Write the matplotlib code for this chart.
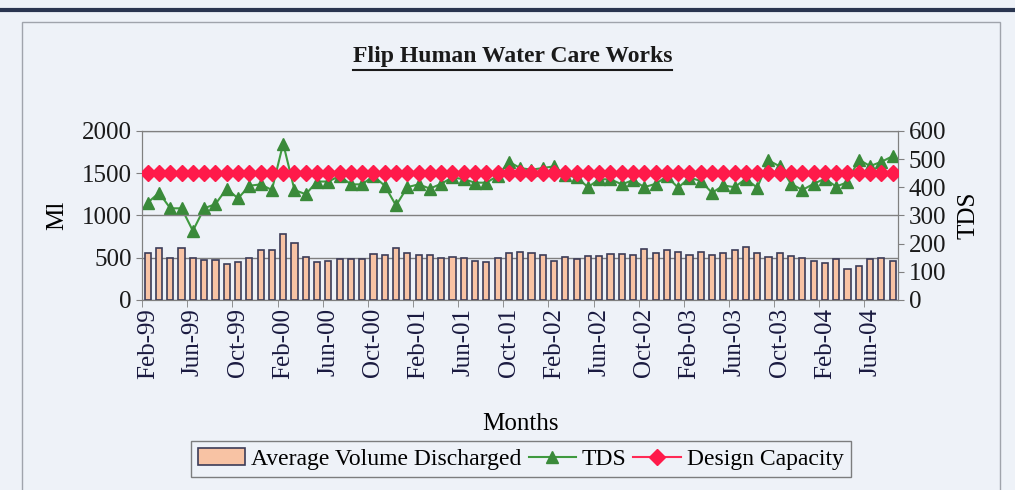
import matplotlib
matplotlib.use("Agg")
import matplotlib.pyplot as plt
from matplotlib.lines import Line2D
import numpy as np

plt.rcParams["font.family"] = ["Liberation Serif", "DejaVu Serif"]

# monthly data, Feb-99 .. Aug-04
volume = [
    553, 613, 494, 613, 494, 466, 466, 427, 447, 494, 593, 593, 783, 672, 506, 447,
    458, 486, 486, 486, 545, 535, 615, 555, 535, 535, 495, 505, 495, 465, 450, 490,
    550, 565, 550, 530, 465, 505, 485, 525, 525, 545, 545, 530, 605, 555, 590, 570,
    530, 570, 530, 550, 590, 630, 550, 505, 550, 525, 500, 460, 440, 480, 365, 395,
    480, 500, 460,
]
tds = [
    345, 380, 325, 325, 245, 325, 340, 395, 360, 405, 410, 390, 555, 390, 375, 420,
    420, 440, 410, 410, 440, 405, 335, 400, 410, 395, 412, 435, 428, 416, 416, 440,
    490, 468, 462, 468, 474, 442, 436, 400, 428, 428, 410, 425, 400, 412, 438, 398,
    434, 422, 380, 406, 400, 430, 398, 495, 474, 412, 390, 412, 430, 402, 418, 498,
    475, 490, 510,
]
design_capacity = [1500] * len(volume)

months = ["Feb", "Mar", "Apr", "May", "Jun", "Jul", "Aug", "Sep", "Oct", "Nov", "Dec", "Jan"]
labels = []
year = 99
for i in range(len(volume)):
    m = months[i % 12]
    if m == "Jan":
        year = (year + 1) % 100
    labels.append(f"{m}-{year:02d}")

bg = "#eef2f8"
fig = plt.figure(figsize=(10.15, 4.9), dpi=100, facecolor=bg)

# scanned page decorations
fig.add_artist(Line2D([0, 1], [0.979, 0.979], color="#2a3550", lw=3, transform=fig.transFigure))
fig.add_artist(plt.Rectangle((0.022, -0.1), 0.963, 1.055, transform=fig.transFigure,
                             fill=False, ec="#a0a4ac", lw=1))

ax = fig.add_axes([0.140, 0.388, 0.745, 0.345])
ax.set_facecolor(bg)
x = np.arange(len(volume))

ax.bar(x, volume, width=0.55, color="#f8c3a4", edgecolor="#3c3c58", lw=1.2,
       label="Average Volume Discharged", zorder=3)
ax.set_ylim(0, 2000)
ax.set_yticks(range(0, 2001, 500))
ax.set_xlim(-0.5, len(volume) - 0.5)
ax.grid(axis="y", color="#808080", lw=1, zorder=0)

ax2 = ax.twinx()
ax2.plot(x, tds, color="#3f9a3f", lw=1.5, marker="^", ms=9, mfc="#3a8a3a",
         mec="#3a8a3a", label="TDS", zorder=4)
ax2.set_ylim(0, 600)
ax2.set_yticks(range(0, 601, 100))

ax.plot(x, design_capacity, color="#ff2a55", lw=1.5, marker="D", ms=8,
        mfc="#ff1a4a", mec="#ff1a4a", label="Design Capacity", zorder=5)
ax.set_zorder(ax2.get_zorder() + 1)
ax.patch.set_visible(False)
ax2.patch.set_facecolor(bg)

ax.set_xticks(x[::4])
ax.set_xticklabels(labels[::4], rotation=90, fontsize=18, color="#1a1a40")
ax.set_xticks(np.arange(-0.5, len(volume), 4), minor=True)
ax.tick_params(axis="x", which="major", length=0, pad=6)
ax.tick_params(axis="x", which="minor", length=5, color="#808080")
ax.tick_params(axis="y", labelsize=18, length=4, color="#808080", labelcolor="#1a1a1a")
ax2.tick_params(axis="y", labelsize=18, length=4, color="#808080", labelcolor="#1a1a1a")

for a in (ax, ax2):
    for s in a.spines.values():
        s.set_color("#808080")

ax.set_xlabel("Months", fontsize=18, labelpad=24)
ax.set_ylabel("Ml", fontsize=18, labelpad=10)
ax2.set_ylabel("TDS", fontsize=18, labelpad=8)

t = fig.text(0.505, 0.884, "Flip Human Water Care Works", ha="center", va="center",
             fontsize=17, fontweight="bold", color="#1a1a1a")
fig.canvas.draw()
bb = t.get_window_extent().transformed(fig.transFigure.inverted())
fig.add_artist(Line2D([bb.x0, bb.x1], [bb.y0 - 0.006, bb.y0 - 0.006], color="#1a1a1a",
                      lw=1.5, transform=fig.transFigure))

h1, l1 = ax.get_legend_handles_labels()
h2, l2 = ax2.get_legend_handles_labels()
handles = [h1[1], h2[0], h1[0]]
names = [l1[1], l2[0], l1[0]]
leg = fig.legend(handles, names, loc="center", bbox_to_anchor=(0.513, 0.063), ncol=3,
                 fontsize=17, frameon=True, fancybox=False, edgecolor="#606060",
                 facecolor=bg, handlelength=2.0, handletextpad=0.25, columnspacing=0.3,
                 borderpad=0.3)

fig.savefig("out.png", dpi=100, facecolor=bg)
